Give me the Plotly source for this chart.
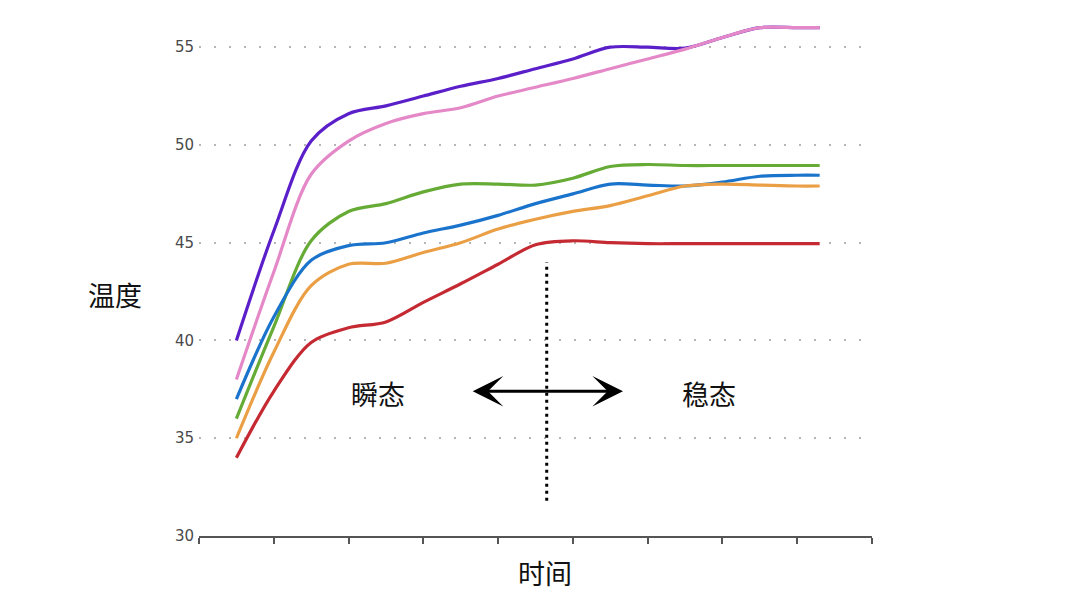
import plotly.graph_objects as go

# sample times (arbitrary units along the time axis)
t = [0.5, 1.0, 1.5, 2.0, 2.5, 3.0, 3.5, 4.0, 4.5, 5.0, 5.5, 6.0, 6.5, 7.0, 7.5, 8.0, 8.3]

purple = [40.0, 45.6, 50.2, 51.6, 52.0, 52.5, 53.0, 53.4, 53.9, 54.4, 55.0, 55.0, 54.95, 55.5, 56.0, 56.0, 56.0]
pink = [38.0, 43.5, 48.5, 50.2, 51.1, 51.6, 51.9, 52.5, 52.95, 53.4, 53.9, 54.4, 54.9, 55.5, 56.0, 56.0, 56.0]
green = [36.0, 40.7, 45.1, 46.6, 47.0, 47.6, 48.0, 48.0, 47.95, 48.3, 48.9, 49.0, 48.95, 48.95, 48.95, 48.95, 48.95]
blue = [37.0, 41.2, 44.1, 44.85, 45.0, 45.5, 45.9, 46.4, 47.0, 47.5, 48.0, 47.95, 47.9, 48.1, 48.4, 48.45, 48.45]
orange = [35.0, 39.4, 42.8, 43.9, 43.95, 44.5, 45.0, 45.7, 46.2, 46.6, 46.9, 47.4, 47.9, 48.0, 47.95, 47.9, 47.9]
red = [34.0, 37.4, 39.9, 40.65, 40.95, 41.95, 42.9, 43.9, 44.9, 45.1, 45.0, 44.95, 44.95, 44.95, 44.95, 44.95, 44.95]

series = [
    ("purple", purple, "#5b1fc9"),
    ("pink", pink, "#e488c8"),
    ("green", green, "#65ab36"),
    ("blue", blue, "#1b74cc"),
    ("orange", orange, "#eb9f45"),
    ("red", red, "#c52a32"),
]

y_ticks = [30, 35, 40, 45, 50, 55]
x_ticks = list(range(10))

# transition marker between transient and steady state
boundary_x = [4.65, 4.65]
boundary_y = [31.8, 44.0]
arrow_from = (3.64, 37.4)
arrow_to = (5.67, 37.4)

fig = go.Figure()
for name, vals, col in series:
    fig.add_trace(go.Scatter(x=t, y=vals, mode="lines", name=name,
                             line=dict(color=col, width=3.2, shape="spline", smoothing=0.9)))

fig.add_trace(go.Scatter(x=boundary_x, y=boundary_y, mode="lines",
                         line=dict(color="black", width=3, dash="3px,4px")))

cjk = "Noto Sans CJK SC"
txt = dict(family=cjk, size=27, color="#111")

fig.add_annotation(x=arrow_to[0], y=arrow_to[1], ax=arrow_from[0], ay=arrow_from[1],
                   xref="x", yref="y", axref="x", ayref="y", text="",
                   showarrow=True, arrowside="end+start",
                   arrowhead=3, arrowsize=1.7, startarrowhead=3, startarrowsize=1.7,
                   arrowwidth=3, arrowcolor="black")
fig.add_annotation(x=2.39, y=37.3, xref="x", yref="y", text="瞬态", showarrow=False, font=txt)
fig.add_annotation(x=6.82, y=37.3, xref="x", yref="y", text="稳态", showarrow=False, font=txt)
fig.add_annotation(x=-0.125, y=0.46, xref="paper", yref="paper", text="温度", showarrow=False,
                   xanchor="center", yanchor="middle", font=txt)
fig.add_annotation(x=0.514, y=-0.069, xref="paper", yref="paper", text="时间", showarrow=False,
                   xanchor="center", yanchor="middle", font=txt)

# page body has an 8px margin, so the figure is 8px smaller than the window
fig.update_layout(
    width=1072, height=594,
    margin=dict(l=191, r=208, t=4, b=66),
    paper_bgcolor="white", plot_bgcolor="white",
    showlegend=False,
)
fig.update_xaxes(range=[0, 9], tickvals=x_ticks, showticklabels=False,
                 ticks="outside", ticklen=6, tickwidth=1.5, tickcolor="#555",
                 showline=True, linecolor="#555", linewidth=2,
                 showgrid=False, zeroline=False)
fig.update_yaxes(range=[30, 56.8], tickvals=y_ticks, ticks="",
                 tickfont=dict(family="DejaVu Sans", size=15, color="#4a4a4a"),
                 ticklabelstandoff=4,
                 showline=False, zeroline=False,
                 showgrid=True, gridcolor="#b5b5b5", gridwidth=2, griddash="2px,13px")

fig.write_html("out.html")
